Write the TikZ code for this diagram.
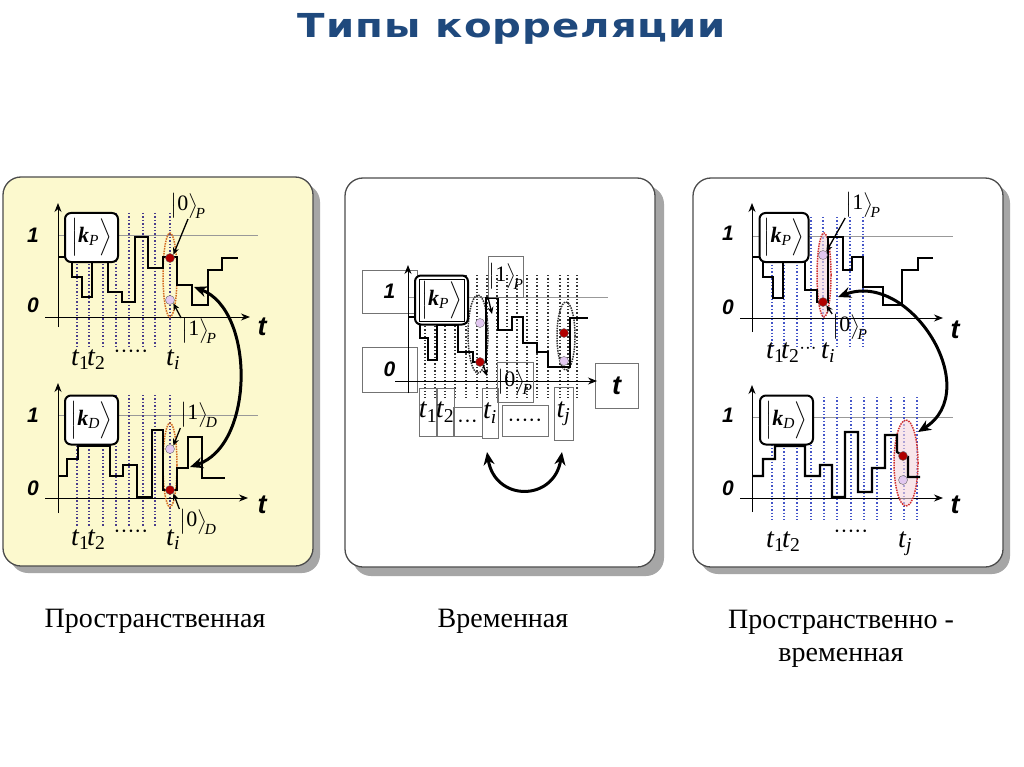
\documentclass[tikz,border=0pt]{standalone}
\usepackage{amsmath}
\usepackage{exscale}
\usepackage{fontspec}
\setmainfont{Liberation Serif}
\setsansfont{Liberation Sans}
\newfontfamily\titlefont[FakeStretch=1.22, LetterSpace=3]{DejaVu Sans}
\usetikzlibrary{arrows.meta,shapes.geometric,positioning}

\definecolor{titleblue}{HTML}{1F497D}
\definecolor{panelyellow}{HTML}{FCF9CE}
\definecolor{gridpurple}{HTML}{4A3E8C}
\definecolor{gridblue}{HTML}{4455C8}
\definecolor{ovalorange}{HTML}{D2691E}
\definecolor{ovalred}{HTML}{D03030}
\definecolor{ovalpink}{HTML}{F6D6DE}
\definecolor{dotred}{HTML}{B00000}
\definecolor{dotpink}{HTML}{E2C8F0}

\newcommand{\tlab}[1]{\textit{t}\kern-0.5pt\textsubscript{#1}}
\newcommand{\ketlab}[2]{$\big|\text{#1}\big\rangle_{\!\text{\textit{#2}}}$}
\newcommand{\kvec}[1]{$\Big|\text{\textbf{\textit{k}}}_{\text{\textit{#1}}}\Big\rangle$}

\tikzset{
  panel/.style={draw=black!70, line width=1.3pt, rounded corners=18pt},
  panelshadow/.style={fill=black!35, rounded corners=18pt},
  axisline/.style={-{Stealth[length=9pt,width=7pt]}, line width=1pt},
  onelevel/.style={black!40, line width=0.7pt},
  trace/.style={line width=2.2pt},
  gridP/.style={gridpurple, dotted, line width=1.4pt},
  gridB/.style={gridblue, dotted, line width=1.4pt},
  gridK/.style={black!80, dotted, line width=1.4pt},
  kbox/.style={draw, line width=2pt, rounded corners=6pt, fill=white, minimum width=53pt, minimum height=49pt, inner sep=0pt, font=\fontsize{22}{22}\selectfont},
  lvl/.style={font=\sffamily\bfseries\itshape\fontsize{21}{21}\selectfont},
  tax/.style={font=\sffamily\bfseries\itshape\fontsize{27}{27}\selectfont},
  tlbl/.style={font=\fontsize{28}{28}\selectfont, inner sep=0pt},
  ket/.style={font=\fontsize{22}{22}\selectfont, inner sep=0pt},
  oval/.style={ellipse, densely dotted, line width=1.5pt, inner sep=0pt, minimum width=14pt, minimum height=84pt},
  reddot/.style={circle, draw=black!60, fill=dotred, inner sep=0pt, minimum size=9pt},
  pinkdot/.style={circle, draw=black!60, fill=dotpink, inner sep=0pt, minimum size=9pt},
  bigarrow/.style={{Stealth[length=13pt,width=11pt]}-{Stealth[length=13pt,width=11pt]}, line width=3pt},
  ptr/.style={-{Stealth[length=7pt,width=6pt]}, line width=1.3pt},
  tagbox/.style={draw=black!55, line width=0.8pt, inner sep=0pt},
  caption/.style={anchor=base, font=\fontsize{28}{28}\selectfont}
}

\begin{document}
\begin{tikzpicture}[x=1pt,y=-1pt]
\useasboundingbox[fill=white] (0,0) rectangle (1024,767);

\node (title) [anchor=base, text=titleblue, font=\titlefont\bfseries\fontsize{33}{33}\selectfont] at (512,38) {Типы корреляции};

% panels
\fill[panelshadow] (10,184) rectangle (320,573);
\draw[panel, fill=panelyellow] (3,177) rectangle (313,566);
\fill[panelshadow] (353,186) rectangle (664,576);
\draw[panel, fill=white] (345,178) rectangle (655,567);
\fill[panelshadow] (700,185) rectangle (1010,574);
\draw[panel, fill=white] (693,178) rectangle (1003,567);

% ---- spatial, detector P
\draw[onelevel] (58,235) -- (258,235);
\foreach \x in {77,89,103,116,129,143,155,170}
  \draw[gridP] (\x,213) -- (\x,346);
\draw[axisline] (45,317) -- (250,317);
\draw[axisline] (58,327) -- (58,203);
\node[oval, draw=ovalorange] (ovP1) at (170,275) {};
\draw[trace] (58,257) -- (72,257) -- (72,277) -- (82,277) -- (82,297) -- (92,297) -- (92,262)
  -- (108,262) -- (108,292) -- (122,292) -- (122,302) -- (135,302) -- (135,237) -- (148,237)
  -- (148,268) -- (163,268) -- (163,257) -- (177,257) -- (177,285) -- (192,285) -- (192,305)
  -- (208,305) -- (208,270) -- (222,270) -- (222,258) -- (238,258);
\node[kbox] (kP1) at (91.5,237.5) {\kvec{P}};
\node[reddot] (rP1) at (170,258) {};
\node[pinkdot] (pP1) at (170,300) {};
\node[lvl] (oneP1) at (33,235) {1};
\node[lvl] (zeroP1) at (33,305) {0};
\node[tax] (tP1) at (262,327) {t};
\node[ket] (zP1) at (188,206) {\ketlab{0}{P}};
\node[ket] (uP1) at (199,331) {\ketlab{1}{P}};
\draw[ptr] (zP1.south) -- (rP1.north east);
\draw[ptr] (uP1.north west) -- (pP1.south east);
\node[tlbl, anchor=base west] (t1P1) at (71,365) {\tlab{1}};
\node[tlbl, anchor=base west] (t2P1) at (87,365) {\tlab{2}};
\node[tlbl] (dotsP1) at (131,352) {${\cdot}{\cdot}{\cdot}{\cdot}{\cdot}$};
\node[tlbl, anchor=base west] (tiP1) at (166,365) {\tlab{\textit{i}}};

% ---- spatial, detector D
\draw[onelevel] (58,415) -- (258,415);
\foreach \x in {77,89,103,116,129,143,155,170}
  \draw[gridP] (\x,395) -- (\x,526);
\draw[axisline] (45,498) -- (248,498);
\draw[axisline] (58,513) -- (58,383);
\node[oval, draw=ovalorange] (ovD1) at (170,465) {};
\draw[trace] (58,476) -- (67,476) -- (67,459) -- (78,459) -- (78,446) -- (110,446) -- (110,476)
  -- (123,476) -- (123,465) -- (137,465) -- (137,497) -- (152,497) -- (152,430) -- (163,430)
  -- (163,490) -- (177,490) -- (177,468) -- (188,468) -- (188,437) -- (202,437) -- (202,478)
  -- (225,478);
\node[kbox] (kD1) at (91.5,420) {\kvec{D}};
\node[reddot] (rD1) at (170,490) {};
\node[pinkdot] (pD1) at (170,449) {};
\node[lvl] (oneD1) at (33,415) {1};
\node[lvl] (zeroD1) at (33,488) {0};
\node[tax] (tD1) at (262,505) {t};
\node[ket] (uD1) at (199,415) {\ketlab{1}{D}};
\node[ket] (zD1) at (198,522) {\ketlab{0}{D}};
\draw[ptr] (uD1.south west) -- (pD1.north east);
\draw[ptr] (zD1.north west) -- (rD1.south east);
\node[tlbl, anchor=base west] (t1D1) at (71,545) {\tlab{1}};
\node[tlbl, anchor=base west] (t2D1) at (87,545) {\tlab{2}};
\node[tlbl] (dotsD1) at (131,532) {${\cdot}{\cdot}{\cdot}{\cdot}{\cdot}$};
\node[tlbl, anchor=base west] (tiD1) at (166,545) {\tlab{\textit{i}}};

\coordinate (sw1a) at (190,467);
\coordinate (sw1b) at (194,287);
\draw[bigarrow] (sw1a) .. controls (255,445) and (255,310) .. (sw1b);

% ---- temporal
\node[tagbox, minimum width=55pt, minimum height=43pt, lvl] (one2) at (389.5,291.5) {1};
\node[tagbox, minimum width=55pt, minimum height=45pt, lvl] (zero2) at (389.5,369.5) {0};
\node[tagbox, minimum width=43pt, minimum height=45pt, tax] (tax2) at (616.5,385.5) {t};
\draw[onelevel] (408,297) -- (608,297);
\foreach \x in {425,435,445,455,466,477,487,497,507,517,527,537,548,560,568,577}
  \draw[gridK] (\x,275) -- (\x,398);
\draw[axisline] (395,381) -- (597,381);
\draw[axisline] (408,393) -- (408,265);
\node[oval, draw=black!80, minimum width=20pt, minimum height=78pt] (ov21) at (478,334) {};
\node[oval, draw=black!80, minimum width=18pt, minimum height=68pt] (ov22) at (566,336) {};
\draw[trace] (408,317) -- (420,317) -- (420,338) -- (428,338) -- (428,360) -- (437,360) -- (437,325)
  -- (458,325) -- (458,352) -- (473,352) -- (473,362) -- (486,362) -- (486,298) -- (498,298)
  -- (498,330) -- (512,330) -- (512,317) -- (523,317) -- (523,343) -- (537,343) -- (537,352)
  -- (548,352) -- (548,367) -- (570,367) -- (570,318) -- (588,318);
\node[kbox] (kP2) at (441.5,300) {\kvec{P}};
\node[draw, line width=0.7pt, minimum width=45pt, minimum height=42pt] (kP2in) at (kP2) {};
\node[reddot] (r21) at (480,362) {};
\node[pinkdot] (p21) at (480,323) {};
\node[reddot] (r22) at (564,333) {};
\node[pinkdot] (p22) at (564,361) {};
\node[tagbox, ket, minimum width=34pt, minimum height=41pt] (u2) at (506,276.5) {\ketlab{1}{P}};
\node[tagbox, ket, minimum width=36pt, minimum height=40pt] (z2) at (515,382) {\ketlab{0}{P}};
\coordinate (a21) at (492,314);
\coordinate (a22) at (487,376);
\draw[ptr] (u2.south west) -- (a21);
\draw[ptr] (r21.south east) -- (a22);
\node[tagbox, tlbl, minimum width=18pt, minimum height=48pt] (t12) at (428,412) {\tlab{1}};
\node[tagbox, tlbl, minimum width=16pt, minimum height=48pt] (t22) at (445,412) {\tlab{2}};
\node[tagbox, tlbl, minimum width=29pt, minimum height=29pt] (dots21) at (467.5,421.5) {${\cdot}{\cdot}{\cdot}$};
\node[tagbox, tlbl, minimum width=16pt, minimum height=50pt] (ti2) at (490,413) {\tlab{\textit{i}}};
\node[tagbox, tlbl, minimum width=46pt, minimum height=31pt] (dots22) at (525,420.5) {${\cdot}{\cdot}{\cdot}{\cdot}{\cdot}$};
\node[tagbox, tlbl, minimum width=19pt, minimum height=53pt] (tj2) at (563.5,413.5) {\tlab{\textit{j}}};
\coordinate (sw2a) at (487,452);
\coordinate (sw2b) at (562,452);
\draw[bigarrow] (sw2a) .. controls (495,502) and (554,502) .. (sw2b);

% ---- spatio-temporal, detector P
\draw[onelevel] (752,236) -- (953,236);
\foreach \x in {772,784,797,811,823,837,850,863}
  \draw[gridB] (\x,217) -- (\x,347);
\draw[axisline] (740,318) -- (943,318);
\draw[axisline] (752,332) -- (752,203);
\node[oval, draw=ovalred, fill=ovalpink, fill opacity=0.6, draw opacity=1] (ovP3) at (824,275) {};
\draw[trace] (752,257) -- (763,257) -- (763,277) -- (773,277) -- (773,298) -- (783,298) -- (783,262)
  -- (805,262) -- (805,290) -- (817,290) -- (817,302) -- (828,302) -- (828,237) -- (843,237)
  -- (843,270) -- (852,270) -- (852,257) -- (863,257) -- (863,287) -- (883,287) -- (883,305)
  -- (902,305) -- (902,270) -- (918,270) -- (918,258) -- (933,258);
\node[kbox, minimum width=49pt] (kP3) at (784,237.5) {\kvec{P}};
\node[reddot] (rP3) at (823,302) {};
\node[pinkdot] (pP3) at (823,255) {};
\node[lvl] (oneP3) at (728,233) {1};
\node[lvl] (zeroP3) at (728,307) {0};
\node[tax] (tP3) at (955,330) {t};
\node[ket] (uP3) at (863,205) {\ketlab{1}{P}};
\node[ket] (zP3) at (850,327) {\ketlab{0}{P}};
\draw[ptr] (uP3.south west) -- (pP3.north east);
\draw[ptr] (zP3.north west) -- (rP3.south east);
\node[tlbl, anchor=base west] (t1P3) at (766,358) {\tlab{1}};
\node[tlbl, anchor=base west] (t2P3) at (781,358) {\tlab{2}};
\node[tlbl, font=\fontsize{20}{20}\selectfont] (dotsP3) at (808,349) {${\cdot}{\cdot}{\cdot}$};
\node[tlbl, anchor=base west] (tiP3) at (821,358) {\tlab{\textit{i}}};

% ---- spatio-temporal, detector D
\draw[onelevel] (752,417) -- (953,417);
\foreach \x in {772,784,797,811,824,837,851,864,877,891,904,917}
  \draw[gridB] (\x,397) -- (\x,520);
\draw[axisline] (740,498) -- (943,498);
\draw[axisline] (752,512) -- (752,385);
\node[oval, draw=ovalred, fill=ovalpink, fill opacity=0.6, draw opacity=1, minimum width=24pt, minimum height=86pt] (ovD3) at (906,463) {};
\draw[trace] (752,476) -- (763,476) -- (763,459) -- (775,459) -- (775,446) -- (805,446) -- (805,476)
  -- (820,476) -- (820,465) -- (832,465) -- (832,497) -- (845,497) -- (845,432) -- (858,432)
  -- (858,492) -- (872,492) -- (872,468) -- (885,468) -- (885,435) -- (897,435) -- (897,452)
  -- (905,457) -- (908,457) -- (908,477) -- (920,477);
\node[kbox] (kD3) at (786.5,420) {\kvec{D}};
\node[reddot] (rD3) at (903,456) {};
\node[pinkdot] (pD3) at (903,480) {};
\node[lvl] (oneD3) at (728,415) {1};
\node[lvl] (zeroD3) at (728,488) {0};
\node[tax] (tD3) at (955,505) {t};
\node[tlbl, anchor=base west] (t1D3) at (766,547) {\tlab{1}};
\node[tlbl, anchor=base west] (t2D3) at (782,547) {\tlab{2}};
\node[tlbl] (dotsD3) at (851,532) {${\cdot}{\cdot}{\cdot}{\cdot}{\cdot}$};
\node[tlbl, anchor=base west] (tjD3) at (898,547) {\tlab{\textit{j}}};

\coordinate (sw3a) at (838,297);
\coordinate (sw3b) at (918,432);
\draw[bigarrow] (sw3a) .. controls (910,270) and (985,390) .. (sw3b);

% captions
\node[caption] (cap1) at (155,627) {Пространственная};
\node[caption] (cap2) at (503,627) {Временная};
\node[caption] (cap3a) at (841,628) {Пространственно -};
\node[caption] (cap3b) at (841,661) {временная};
\end{tikzpicture}
\end{document}
